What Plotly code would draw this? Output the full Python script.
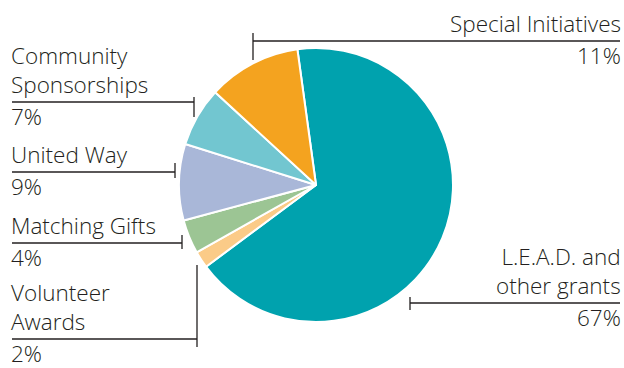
import plotly.graph_objects as go

labels = ["L.E.A.D. and<br>other grants", "Volunteer<br>Awards", "Matching Gifts",
          "United Way", "Community<br>Sponsorships", "Special Initiatives"]
values = [67, 2, 4, 9, 7, 11]
pct_text = ["67%", "2%", "4%", "9%", "7%", "11%"]
colors = ["#00A2AE", "#FBCB88", "#9CC594", "#A9B7D8", "#72C6D0", "#F4A31F"]

W, H = 624, 368
cx, cy, r = 316, 185, 137

fig = go.Figure(go.Pie(
    labels=labels, values=values, sort=False, direction="clockwise",
    rotation=-7.8, textinfo="none", hoverinfo="skip",
    marker=dict(colors=colors, line=dict(color="white", width=2)),
    domain=dict(x=[(cx - r) / W, (cx + r) / W], y=[1 - (cy + r) / H, 1 - (cy - r) / H]),
    showlegend=False,
))

def px(x):
    return x / W

def py(y):
    return 1 - y / H

# leader layout: (label idx, line y, x_left, x_right, tick x, tick y0, tick y1, side)
leaders = [
    (4, 102, 12, 194, 194, 97, 117, "left"),
    (3, 172, 12, 175, 175, 163, 178, "left"),
    (2, 243, 12, 182, 182, 235, 249, "left"),
    (1, 339, 12, 197, 197, 265, 347, "left"),
    (5, 41, 253, 620, 253, 33, 60, "right"),
    (0, 303, 410, 620, 410, 297, 310, "right"),
]

font = dict(family="Open Sans, Arial, sans-serif", size=22.5, color="#231F20", weight=300)
lc = "#231F20"
for idx, ly, x0, x1, tx, ty0, ty1, side in leaders:
    fig.add_shape(type="line", xref="paper", yref="paper",
                  x0=px(x0), x1=px(x1), y0=py(ly), y1=py(ly),
                  line=dict(color=lc, width=1.3))
    fig.add_shape(type="line", xref="paper", yref="paper",
                  x0=px(tx), x1=px(tx), y0=py(ty0), y1=py(ty1),
                  line=dict(color=lc, width=1.3))
    if side == "left":
        ax, anchor, align = px(x0 - 2), "left", "left"
    else:
        ax, anchor, align = px(x1 + 2), "right", "right"
    fig.add_annotation(xref="paper", yref="paper", x=ax, y=py(ly - 1),
                       text=labels[idx], showarrow=False, xanchor=anchor,
                       yanchor="bottom", align=align, font=font,
                       borderpad=0)
    fig.add_annotation(xref="paper", yref="paper", x=ax, y=py(ly - 2),
                       text=pct_text[idx], showarrow=False, xanchor=anchor,
                       yanchor="top", align=align, font=font, borderpad=0)

fig.update_layout(width=W, height=H, margin=dict(l=0, r=0, t=0, b=0),
                  paper_bgcolor="white", plot_bgcolor="white")
fig.write_html("out.html")
